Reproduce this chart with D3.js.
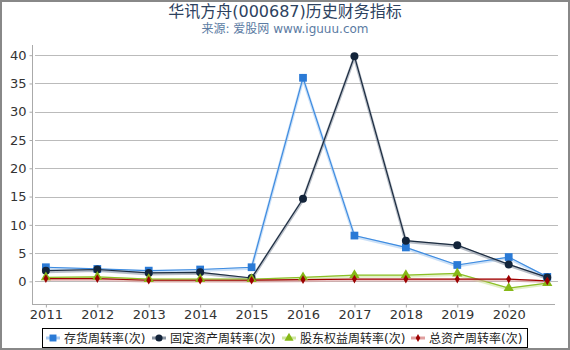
<!DOCTYPE html>
<meta charset="UTF-8">
<style>
body { margin: 0; background: #fff; }
text { font-family: "DejaVu Sans", "Noto Sans CJK SC", sans-serif; }
.grid line { stroke: #bbb; stroke-width: 1px; }
.axis text { font-size: 13px; fill: #333; }
</style>
<body>
<script src="https://d3js.org/d3.v7.min.js"></script>
<script>

var years = ["2011", "2012", "2013", "2014", "2015", "2016", "2017", "2018", "2019", "2020"];
// last point is 2021 Q3, placed three quarters into the next year
var xPos = [2011, 2012, 2013, 2014, 2015, 2016, 2017, 2018, 2019, 2020, 2020.75];

var inventory = [2.5, 2.2, 1.9, 2.1, 2.5, 36.0, 8.1, 6.0, 2.9, 4.3, 0.8];
var fixedAssets = [1.9, 2.1, 1.5, 1.6, 0.6, 14.6, 39.8, 7.2, 6.4, 3.0, 0.7];
var equity = [0.7, 0.8, 0.4, 0.4, 0.4, 0.7, 1.1, 1.1, 1.4, -1.2, -0.3];
var totalAssets = [0.5, 0.5, 0.2, 0.2, 0.2, 0.3, 0.4, 0.4, 0.4, 0.4, 0.1];
var yTicks = [0, 5, 10, 15, 20, 25, 30, 35, 40];

var series = [
  {name: "存货周转率(次)", values: inventory, color: "#2a7ad6", line: "#3d8be0", glow: "#a9cbf2", symbol: d3.symbolSquare, size: 60},
  {name: "固定资产周转率(次)", values: fixedAssets, color: "#13243a", line: "#1c2c40", glow: "#8a95a3", symbol: d3.symbolCircle, size: 50},
  {name: "股东权益周转率(次)", values: equity, color: "#86b817", line: "#8cbf26", glow: "#cfe6a0", symbol: d3.symbolTriangle, size: 45},
  {name: "总资产周转率(次)", values: totalAssets, color: "#9c0000", line: "#a00000", glow: "#e0a0a0", symbol: d3.symbolDiamond, size: 22}
];

var W = 570, H = 350;
var svg = d3.select("body").append("svg").attr("width", W).attr("height", H);

svg.append("rect").attr("x", 1).attr("y", 1).attr("width", W - 2).attr("height", H - 2)
  .attr("fill", "#fff").attr("stroke", "#888").attr("stroke-width", 2);

svg.append("text").attr("x", 285).attr("y", 17).attr("text-anchor", "middle")
  .style("font-size", "16px").style("fill", "#2d4260").text("华讯方舟(000687)历史财务指标");
svg.append("text").attr("x", 285).attr("y", 33).attr("text-anchor", "middle")
  .style("font-size", "12px").style("fill", "#5b7ba3").text("来源: 爱股网 www.iguuu.com");

var x = d3.scaleLinear().domain([2010.73, 2020.9]).range([32, 555]);
var y = d3.scaleLinear().domain([-4, 41.8]).range([304, 45]);

var grid = svg.append("g").attr("class", "grid");
grid.selectAll("line").data(yTicks).enter().append("line")
  .attr("x1", 35).attr("x2", 558)
  .attr("y1", function(d) { return Math.round(y(d)) + 0.5; })
  .attr("y2", function(d) { return Math.round(y(d)) + 0.5; });

var yAxis = svg.append("g").attr("class", "axis").attr("transform", "translate(32.5,0)")
  .call(d3.axisLeft(y).tickValues(yTicks).tickSize(3).tickPadding(3));
yAxis.select(".domain").attr("stroke", "#aaa").attr("d", "M0,45V304");
yAxis.selectAll(".tick line").attr("stroke", "#aaa");

var xAxis = svg.append("g").attr("class", "axis").attr("transform", "translate(0,304.5)")
  .call(d3.axisBottom(x).tickValues(xPos.slice(0, years.length))
    .tickFormat(function(d, i) { return years[i]; }).tickSize(3).tickPadding(2));
xAxis.select(".domain").attr("stroke", "#aaa").attr("d", "M32,0H555");
xAxis.selectAll(".tick line").attr("stroke", "#aaa");

var line = d3.line()
  .x(function(d, i) { return x(xPos[i]); })
  .y(function(d) { return y(d); });

series.forEach(function(s) {
  svg.append("path").attr("d", line(s.values)).attr("fill", "none")
    .attr("stroke", s.glow).attr("stroke-width", 3).attr("stroke-opacity", 0.6)
    .attr("transform", "translate(0,1)");
  svg.append("path").attr("d", line(s.values)).attr("fill", "none")
    .attr("stroke", s.line).attr("stroke-width", 1.2);
});
series.forEach(function(s) {
  svg.selectAll(null).data(s.values).enter().append("path")
    .attr("d", d3.symbol().type(s.symbol).size(s.size))
    .attr("transform", function(d, i) { return "translate(" + x(xPos[i]) + "," + y(d) + ")"; })
    .attr("fill", s.color);
});

// legend
var legend = svg.append("g");
legend.append("rect").attr("x", 42.5).attr("y", 328.5).attr("width", 485).attr("height", 19)
  .attr("fill", "#fff").attr("stroke", "#000").attr("stroke-width", 1);
var legendX = [53, 159, 289, 418];
series.forEach(function(s, i) {
  var g = legend.append("g").attr("transform", "translate(" + legendX[i] + ",338)");
  g.append("line").attr("x1", -7).attr("x2", 7).attr("y1", 0).attr("y2", 0)
    .attr("stroke", s.glow).attr("stroke-width", 3);
  g.append("path").attr("d", d3.symbol().type(s.symbol).size(s.size * 0.8))
    .attr("fill", s.color);
  g.append("text").attr("x", 11).attr("y", 4.5).style("font-size", "12px")
    .style("fill", "#222").text(s.name);
});

</script>
</body>
